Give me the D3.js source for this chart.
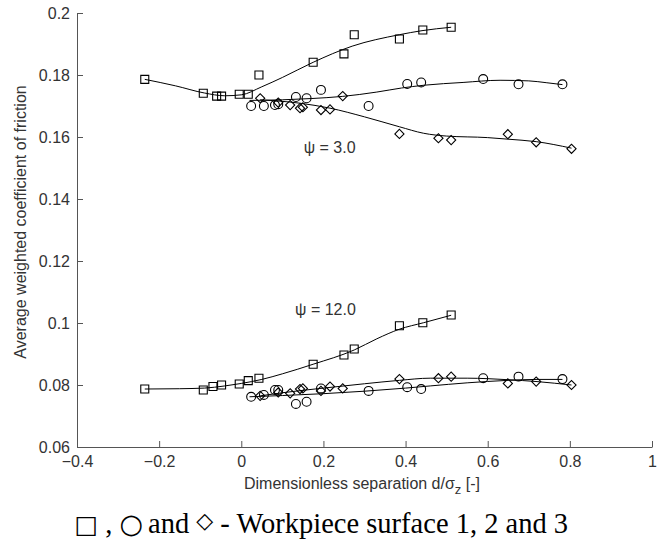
<!DOCTYPE html>
<html>
<head>
<meta charset="utf-8">
<script src="https://cdn.jsdelivr.net/npm/d3@7"></script>
<style>
	body { margin: 0; background: #fff; }
	svg { display: block; }
	.axis path, .axis line { stroke: #555; }
	.axis text { font-family: "Liberation Sans", Arial, sans-serif; font-size: 16px; fill: #333; }
	.lbl { font-family: "Liberation Sans", Arial, sans-serif; font-size: 16px; fill: #333; }
	.cap { font-family: "Liberation Serif", "Times New Roman", serif; font-size: 28.5px; fill: #000; }
	.sym { font-family: "DejaVu Sans", sans-serif; }
</style>
</head>
<body>
<svg id="chart" width="672" height="542"></svg>
<script>
// tick labels
var xTicks = [-0.4, -0.2, 0, 0.2, 0.4, 0.6, 0.8, 1];
var yTicks = [0.06, 0.08, 0.1, 0.12, 0.14, 0.16, 0.18, 0.2];

// psi = 3.0 : measured points [d/sigma, mu]
var sq3 = [[-0.235,0.1786],[-0.0925,0.1741],[-0.06,0.1732],[-0.048,0.1732],[-0.005,0.1738],[0.017,0.1738],
	[0.043,0.1800],[0.175,0.1841],[0.25,0.1868],[0.275,0.1930],[0.385,0.1916],[0.442,0.1945],[0.511,0.1954]];
var circ3 = [[0.024,0.1700],[0.055,0.1700],[0.082,0.1703],[0.09,0.1706],[0.133,0.1729],[0.159,0.1725],
	[0.194,0.1752],[0.31,0.1700],[0.404,0.1771],[0.438,0.1776],[0.589,0.1787],[0.675,0.1770],[0.782,0.1770]];
var dia3 = [[0.046,0.1725],[0.09,0.1711],[0.119,0.1703],[0.143,0.1693],[0.150,0.1696],[0.194,0.1687],
	[0.216,0.1689],[0.247,0.1732],[0.385,0.1610],[0.48,0.1596],[0.511,0.1590],[0.649,0.1609],[0.718,0.1583],[0.804,0.1562]];

// psi = 3.0 : fitted curves
var sq3Fit = [[-0.235,0.1786],[-0.16,0.1765],[-0.09,0.1742],[-0.04,0.1733],[0.0,0.1736],[0.05,0.1762],
	[0.1,0.1792],[0.175,0.1841],[0.27,0.1893],[0.385,0.1930],[0.44,0.1943],[0.511,0.1954]];
var circ3Fit = [[0.02,0.1718],[0.1,0.1720],[0.17,0.1724],[0.247,0.1731],[0.33,0.1745],[0.39,0.1758],
	[0.445,0.1767],[0.54,0.1776],[0.63,0.1783],[0.7,0.1781],[0.744,0.1775],[0.782,0.1769]];
var dia3Fit = [[0.046,0.1720],[0.143,0.1709],[0.216,0.1693],[0.3,0.1665],[0.385,0.1633],[0.444,0.1612],
	[0.5,0.1603],[0.6,0.1598],[0.649,0.1593],[0.718,0.1585],[0.804,0.1564]];

// psi = 12.0 : measured points
var sq12 = [[-0.235,0.0787],[-0.0925,0.0784],[-0.069,0.0795],[-0.048,0.0800],[-0.005,0.0803],[0.017,0.0814],
	[0.043,0.0822],[0.175,0.0867],[0.25,0.0897],[0.275,0.0916],[0.385,0.0991],[0.442,0.1001],[0.511,0.1026]];
var circ12 = [[0.024,0.0762],[0.055,0.0768],[0.082,0.0784],[0.09,0.0784],[0.133,0.0739],[0.159,0.0746],
	[0.194,0.0789],[0.31,0.0781],[0.404,0.0793],[0.438,0.0787],[0.589,0.0822],[0.675,0.0827],[0.782,0.0819]];
var dia12 = [[0.046,0.0765],[0.09,0.0776],[0.119,0.0773],[0.143,0.0787],[0.150,0.0789],[0.194,0.0781],
	[0.216,0.0795],[0.247,0.0789],[0.385,0.0819],[0.48,0.0822],[0.511,0.0827],[0.649,0.0805],[0.718,0.0811],[0.804,0.0800]];

// psi = 12.0 : fitted curves
var sq12Fit = [[-0.235,0.0787],[-0.15,0.0788],[-0.09,0.0790],[-0.04,0.0797],[0.0,0.0805],[0.05,0.0818],
	[0.1,0.0836],[0.175,0.0867],[0.275,0.0913],[0.33,0.0949],[0.385,0.0980],[0.444,0.1001],[0.511,0.1025]];
var circ12Fit = [[0.02,0.0762],[0.1,0.0766],[0.2,0.0772],[0.3,0.0780],[0.4,0.0790],[0.46,0.0797],
	[0.55,0.0807],[0.65,0.0815],[0.72,0.0818],[0.782,0.0818]];
var dia12Fit = [[0.046,0.0765],[0.1,0.0775],[0.2,0.0790],[0.3,0.0804],[0.385,0.0815],[0.46,0.0822],
	[0.55,0.0822],[0.65,0.0817],[0.72,0.0811],[0.804,0.0800]];

var psiLabels = [
	{ text: "\u03c8 = 3.0", x: 0.152, y: 0.1548 },
	{ text: "\u03c8 = 12.0", x: 0.131, y: 0.1026 }
];

var svg = d3.select("#chart");

var x = d3.scaleLinear().domain([-0.4, 1]).range([77, 652]);
var y = d3.scaleLinear().domain([0.06, 0.2]).range([447, 13]);

var fmt = d3.format("~g");

svg.append("g")
	.attr("class", "axis")
	.attr("transform", "translate(0," + y(0.06) + ")")
	.call(d3.axisBottom(x).tickValues(xTicks).tickFormat(fmt)
		.tickSizeInner(-6).tickSizeOuter(0).tickPadding(9));

svg.append("g")
	.attr("class", "axis")
	.attr("transform", "translate(" + x(-0.4) + ",0)")
	.call(d3.axisLeft(y).tickValues(yTicks).tickFormat(fmt)
		.tickSizeInner(-6).tickSizeOuter(0).tickPadding(7));

// fitted lines
var line = d3.line()
	.x(function(d) { return x(d[0]); })
	.y(function(d) { return y(d[1]); })
	.curve(d3.curveMonotoneX);

[sq3Fit, circ3Fit, dia3Fit, sq12Fit, circ12Fit, dia12Fit].forEach(function(f) {
	svg.append("path")
		.datum(f)
		.attr("d", line)
		.attr("fill", "none")
		.attr("stroke", "#000")
		.attr("stroke-width", 1);
});

// markers
function drawMarkers(data, kind) {
	var sym;
	if (kind == "square") sym = d3.symbol().type(d3.symbolSquare).size(64);
	else if (kind == "circle") sym = d3.symbol().type(d3.symbolCircle).size(62);
	else sym = d3.symbol().type(d3.symbolSquare).size(42);

	svg.append("g")
		.selectAll("path")
		.data(data)
		.enter().append("path")
		.attr("d", sym)
		.attr("transform", function(d) {
			var t = "translate(" + x(d[0]) + "," + y(d[1]) + ")";
			return kind == "diamond" ? t + " rotate(45)" : t;
		})
		.attr("fill", "none")
		.attr("stroke", "#000")
		.attr("stroke-width", 1.1);
}

drawMarkers(sq3, "square");
drawMarkers(circ3, "circle");
drawMarkers(dia3, "diamond");
drawMarkers(sq12, "square");
drawMarkers(circ12, "circle");
drawMarkers(dia12, "diamond");

svg.selectAll(".psi")
	.data(psiLabels)
	.enter().append("text")
	.attr("class", "lbl psi")
	.attr("x", function(d) { return x(d.x); })
	.attr("y", function(d) { return y(d.y); })
	.text(function(d) { return d.text; });

// axis titles
svg.append("text")
	.attr("class", "lbl")
	.attr("transform", "translate(26,222) rotate(-90)")
	.attr("text-anchor", "middle")
	.text("Average weighted coefficient of friction");

var xl = svg.append("text")
	.attr("class", "lbl")
	.attr("x", 362)
	.attr("y", 489)
	.attr("text-anchor", "middle");
xl.append("tspan").text("Dimensionless separation d/\u03c3");
xl.append("tspan").attr("dy", 5).attr("font-size", "13px").text("z");
xl.append("tspan").attr("dy", -5).text(" [-]");

// caption below the chart
var capL = svg.append("text")
	.attr("class", "cap")
	.attr("x", 143)
	.attr("y", 533)
	.attr("text-anchor", "end");
capL.append("tspan").attr("class", "sym").attr("font-size", "25px").text("\u25a1");
capL.append("tspan").text(" , ");
capL.append("tspan").attr("class", "sym").attr("font-size", "27px").text("\u25cb");

var cap = svg.append("text")
	.attr("class", "cap")
	.attr("x", 148)
	.attr("y", 533);
cap.append("tspan").text("and ");
cap.append("tspan").attr("class", "sym").attr("font-size", "22px").attr("dy", -5).text("\u25c7");
cap.append("tspan").attr("dy", 5).text(" - Workpiece surface 1, 2 and 3");
</script>
</body>
</html>
